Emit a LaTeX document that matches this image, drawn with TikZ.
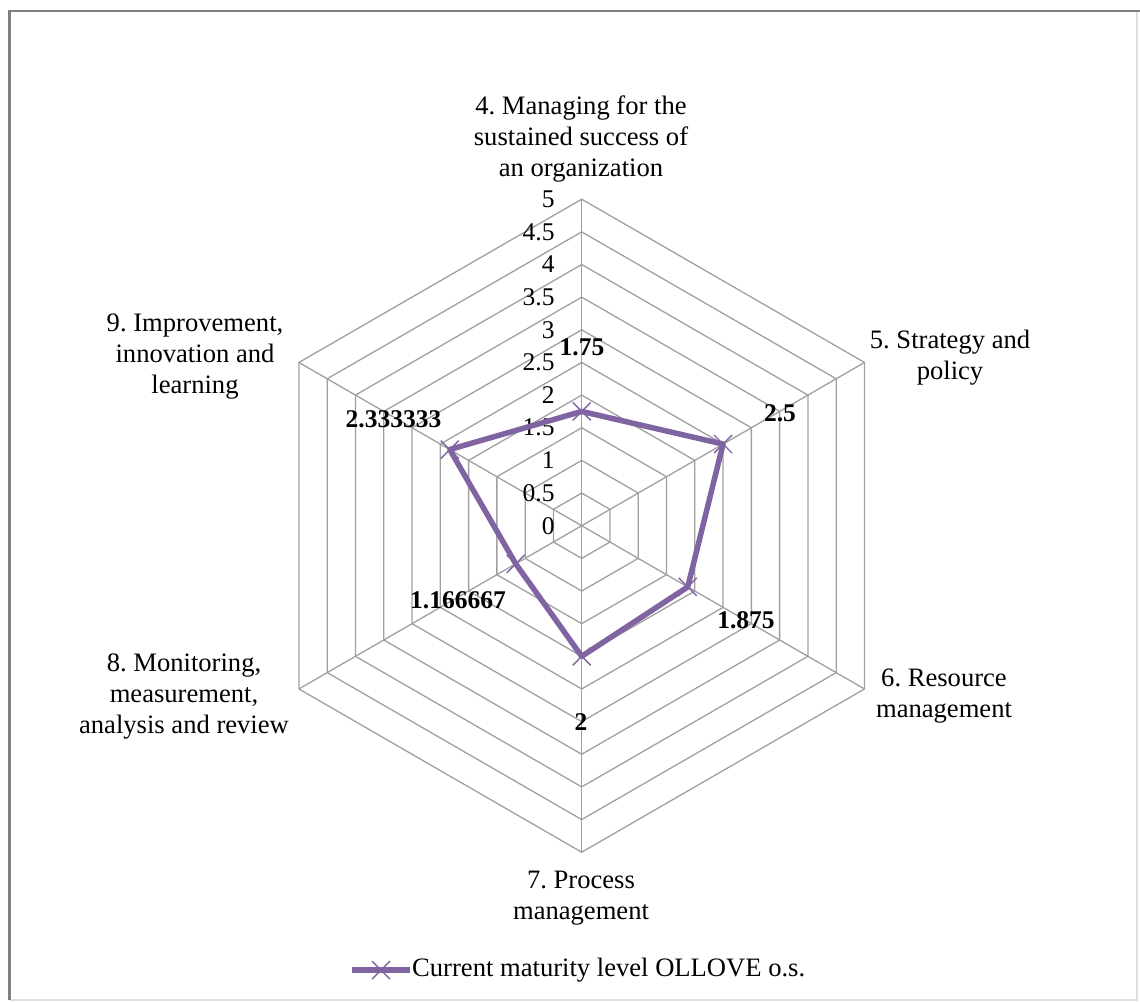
\documentclass[tikz,border=0pt]{standalone}
\usepackage{fontspec}
\setmainfont{Liberation Serif}
\frenchspacing
\definecolor{series}{RGB}{128,100,162}
\definecolor{gridc}{RGB}{160,160,160}
\begin{document}
\begin{tikzpicture}[x=1pt,y=-1pt,
  lbl/.style={font=\fontsize{26.6}{31}\selectfont, align=center, inner sep=0pt},
  ticklbl/.style={font=\fontsize{25.5}{28}\selectfont, anchor=east, inner sep=0pt},
  vallbl/.style={font=\bfseries\fontsize{25.5}{28}\selectfont, inner sep=0pt},
  gridline/.style={draw=gridc, line width=1.3pt, line join=miter},
  serie/.style={draw=series, line width=5.5pt, line join=round},
  xmark/.style={draw=series, line width=1.4pt}]
\useasboundingbox (0,0) rectangle (1140,1002);
\fill[white] (0,0) rectangle (1140,1002);
% chart frame with a soft shadow on the right and bottom
\draw[line width=1.2pt, draw=black!12] (1137,11) -- (1137,1000) -- (9.5,1000);
\draw[line width=2.5pt, draw=black!50] (9.5,1000) -- (9.5,11) -- (1140,11);

\def\u{65.3}
\begin{scope}[shift={(581.7,525.7)}]
  \coordinate (O) at (0,0);
  % concentric hexagons, one per 0.5 step
  \foreach \i in {1,...,10} {
    \draw[gridline] (-90:\i*0.5*\u) -- (-30:\i*0.5*\u) -- (30:\i*0.5*\u)
      -- (90:\i*0.5*\u) -- (150:\i*0.5*\u) -- (210:\i*0.5*\u) -- cycle;
  }
  % spokes
  \foreach \a [count=\k] in {-90,-30,30,90,150,210} {
    \coordinate (s\k) at (\a:5*\u);
    \draw[gridline] (O) -- (s\k);
  }
  % scale labels
  \foreach \i/\t in {0/0,1/0.5,2/1,3/1.5,4/2,5/2.5,6/3,7/3.5,8/4,9/4.5,10/5} {
    \node[ticklbl] (tick\i) at (-27,-\i*0.5*\u) {\t};
  }
  % data points
  \coordinate (p4) at (-90:1.75*\u);
  \coordinate (p5) at (-30:2.5*\u);
  \coordinate (p6) at (30:1.875*\u);
  \coordinate (p7) at (90:2*\u);
  \coordinate (p8) at (150:1.166667*\u);
  \coordinate (p9) at (210:2.333333*\u);
\end{scope}

% data series
\draw[serie] (p4) -- (p5) -- (p6) -- (p7) -- (p8) -- (p9) -- cycle;
\foreach \p in {p4,p5,p6,p7,p8,p9} {
  \draw[xmark] ([shift={(-9,-9)}]\p) -- ([shift={(9,9)}]\p);
  \draw[xmark] ([shift={(-9,9)}]\p) -- ([shift={(9,-9)}]\p);
}

% data labels
\node[vallbl] (v4) at (582,347) {1.75};
\node[vallbl] (v5) at (780,413) {2.5};
\node[vallbl] (v6) at (746,620) {1.875};
\node[vallbl] (v7) at (581,722) {2};
\node[vallbl] (v8) at (458,600) {1.166667};
\node[vallbl] (v9) at (393.5,419) {2.333333};

% category labels
\node[lbl] (c4) at (581,139) {4. Managing for the\\sustained success of\\an organization};
\node[lbl] (c5) at (950,357.5) {5. Strategy and\\policy};
\node[lbl] (c6) at (944,696.5) {6. Resource\\management};
\node[lbl] (c7) at (581,898) {7. Process\\management};
\node[lbl] (c8) at (184,697) {8. Monitoring,\\measurement,\\analysis and review};
\node[lbl] (c9) at (195,357) {9. Improvement,\\innovation and\\learning};

% legend
\coordinate (la) at (352,970);
\coordinate (lb) at (410,970);
\coordinate (lm) at (381,970);
\draw[serie] (la) -- (lb);
\draw[xmark] ([shift={(-9,-9)}]lm) -- ([shift={(9,9)}]lm);
\draw[xmark] ([shift={(-9,9)}]lm) -- ([shift={(9,-9)}]lm);
\node[lbl, anchor=west] (legtext) at (412,970) {Current maturity level OLLOVE o.s.};
\end{tikzpicture}
\end{document}
